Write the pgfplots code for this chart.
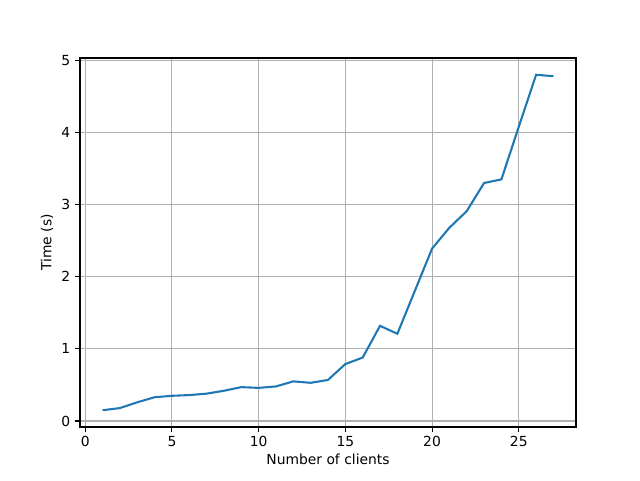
\documentclass[border=0pt]{standalone}
\usepackage{pgfplots}
\pgfplotsset{compat=1.18}
\usepackage{fontspec}
\setmainfont{DejaVu Sans}
\definecolor{mplblue}{HTML}{1F77B4}
\definecolor{gridgray}{HTML}{B0B0B0}
\begin{document}
\fontsize{10.4pt}{12pt}\selectfont
\begin{tikzpicture}
\useasboundingbox (-60pt,-39.75pt) rectangle (420pt,320.25pt);
\begin{axis}[
  at={(0,0)}, anchor=south west,
  width=372pt, height=276.75pt, scale only axis,
  xmin=-0.3, xmax=28.3, ymin=-0.0825, ymax=5.0325,
  xtick={0,5,10,15,20,25}, ytick={0,1,2,3,4,5},
  grid=major,
  major grid style={color=gridgray, line width=0.83pt},
  axis line style={line width=0.83pt},
  tick style={line width=0.83pt, black},
  tick align=outside, major tick length=3.6pt,
  xtick pos=bottom, ytick pos=left,
  tick label style={font=\fontsize{10.4pt}{12pt}\selectfont},
  label style={font=\fontsize{10.4pt}{12pt}\selectfont},
  /pgf/number format/assume math mode=true,
  xlabel={Number of clients}, ylabel={Time (s)},
  xlabel style={yshift=2pt},
  ylabel style={yshift=-1pt},
]
\addplot[mplblue, line width=1.56pt] coordinates {
(1,0.15) (2,0.18) (3,0.26) (4,0.33) (5,0.35) (6,0.36) (7,0.38) (8,0.42)
(9,0.47) (10,0.46) (11,0.48) (12,0.55) (13,0.53) (14,0.57) (15,0.79)
(16,0.88) (17,1.32) (18,1.21) (19,1.80) (20,2.39) (21,2.68) (22,2.91)
(23,3.30) (24,3.35) (25,4.08) (26,4.80) (27,4.78)
};
\end{axis}
\end{tikzpicture}
\end{document}
